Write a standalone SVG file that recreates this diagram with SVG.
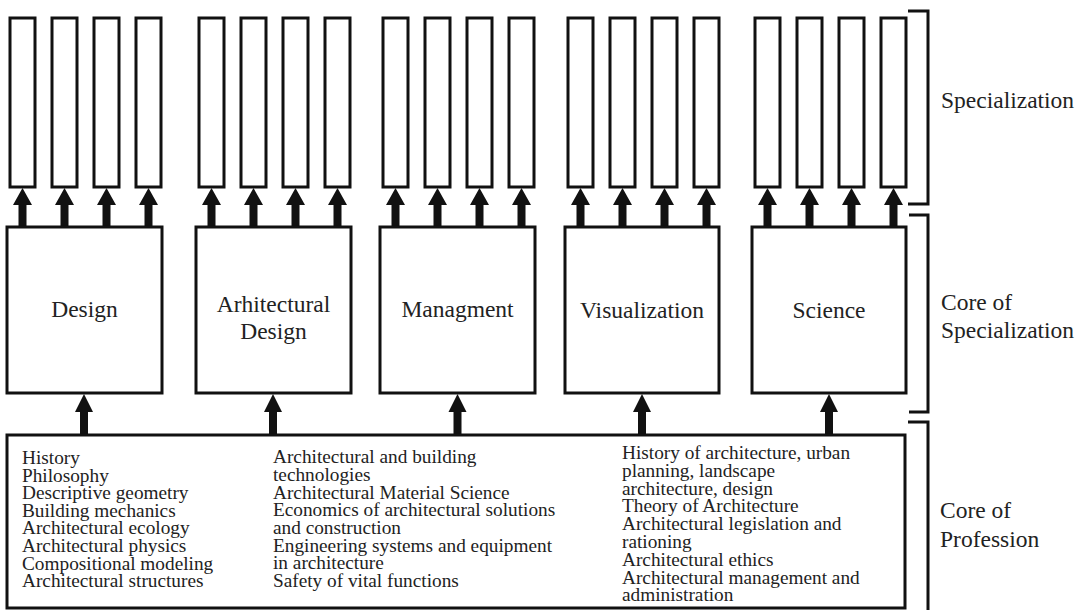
<svg xmlns="http://www.w3.org/2000/svg" xmlns:xlink="http://www.w3.org/1999/xlink" width="1080" height="610" viewBox="0 0 1080 610">
<style>
.box{fill:#fff;stroke:#111;stroke-width:3}
.bar{fill:#fff;stroke:#111;stroke-width:3}
.brk{fill:none;stroke:#111;stroke-width:3}
text{font-family:"Liberation Serif","Times New Roman",serif}
.lbl{font-size:23.5px;fill:#222;text-anchor:middle}
.side{font-size:23.5px;fill:#222}
.lst{font-size:19.3px;fill:#222}
.arr{fill:#111}
</style>
<defs>
<polygon id="sa" class="arr" points="0,0 9.5,17 4,17 4,40 -4,40 -4,17 -9.5,17"/>
<polygon id="ba" class="arr" points="0,0 9,18 4,18 4,42 -4,42 -4,18 -9,18"/>
</defs>
<rect width="1080" height="610" fill="#fff"/>

<g id="connectors">
<use xlink:href="#sa" x="22.5" y="188"/><use xlink:href="#sa" x="64.5" y="188"/><use xlink:href="#sa" x="106.5" y="188"/><use xlink:href="#sa" x="148.5" y="188"/>
<use xlink:href="#sa" x="211.5" y="188"/><use xlink:href="#sa" x="253.5" y="188"/><use xlink:href="#sa" x="295.5" y="188"/><use xlink:href="#sa" x="337.5" y="188"/>
<use xlink:href="#sa" x="395.5" y="188"/><use xlink:href="#sa" x="437.5" y="188"/><use xlink:href="#sa" x="479.5" y="188"/><use xlink:href="#sa" x="521.5" y="188"/>
<use xlink:href="#sa" x="580.5" y="188"/><use xlink:href="#sa" x="622.5" y="188"/><use xlink:href="#sa" x="664.5" y="188"/><use xlink:href="#sa" x="706.5" y="188"/>
<use xlink:href="#sa" x="767.5" y="188"/><use xlink:href="#sa" x="809.5" y="188"/><use xlink:href="#sa" x="851.5" y="188"/><use xlink:href="#sa" x="893.5" y="188"/>
<use xlink:href="#ba" x="84" y="394"/><use xlink:href="#ba" x="273" y="394"/><use xlink:href="#ba" x="457.5" y="394"/><use xlink:href="#ba" x="642" y="394"/><use xlink:href="#ba" x="829" y="394"/>
</g>

<g id="specializations">
<rect class="bar" x="10" y="18" width="25" height="169"/><rect class="bar" x="52" y="18" width="25" height="169"/><rect class="bar" x="94" y="18" width="25" height="169"/><rect class="bar" x="136" y="18" width="25" height="169"/>
<rect class="bar" x="199" y="18" width="25" height="169"/><rect class="bar" x="241" y="18" width="25" height="169"/><rect class="bar" x="283" y="18" width="25" height="169"/><rect class="bar" x="325" y="18" width="25" height="169"/>
<rect class="bar" x="383" y="18" width="25" height="169"/><rect class="bar" x="425" y="18" width="25" height="169"/><rect class="bar" x="467" y="18" width="25" height="169"/><rect class="bar" x="509" y="18" width="25" height="169"/>
<rect class="bar" x="568" y="18" width="25" height="169"/><rect class="bar" x="610" y="18" width="25" height="169"/><rect class="bar" x="652" y="18" width="25" height="169"/><rect class="bar" x="694" y="18" width="25" height="169"/>
<rect class="bar" x="755" y="18" width="25" height="169"/><rect class="bar" x="797" y="18" width="25" height="169"/><rect class="bar" x="839" y="18" width="25" height="169"/><rect class="bar" x="881" y="18" width="25" height="169"/>
</g>

<g id="design"><rect class="box" x="7" y="227" width="155" height="166"/><text class="lbl" x="84.5" y="317">Design</text></g>
<g id="arch-design"><rect class="box" x="196" y="227" width="155" height="166"/><text class="lbl" x="273.5" y="312">Arhitectural</text><text class="lbl" x="273.5" y="339">Design</text></g>
<g id="management"><rect class="box" x="380" y="227" width="155" height="166"/><text class="lbl" x="457.5" y="317">Managment</text></g>
<g id="visualization"><rect class="box" x="565" y="227" width="154" height="166"/><text class="lbl" x="642" y="318">Visualization</text></g>
<g id="science"><rect class="box" x="752" y="227" width="154" height="166"/><text class="lbl" x="829" y="318">Science</text></g>

<g id="core-profession">
<rect class="box" x="7" y="435" width="898" height="173"/>
<text class="lst" x="22">
<tspan x="22" y="464">History</tspan>
<tspan x="22" y="481.6">Philosophy</tspan>
<tspan x="22" y="499.2">Descriptive geometry</tspan>
<tspan x="22" y="516.8">Building mechanics</tspan>
<tspan x="22" y="534.4">Architectural ecology</tspan>
<tspan x="22" y="552">Architectural physics</tspan>
<tspan x="22" y="569.6">Compositional modeling</tspan>
<tspan x="22" y="587.2">Architectural structures</tspan>
</text>
<text class="lst" x="273">
<tspan x="273" y="463">Architectural and building</tspan>
<tspan x="273" y="480.8">technologies</tspan>
<tspan x="273" y="498.6">Architectural Material Science</tspan>
<tspan x="273" y="516.4">Economics of architectural solutions</tspan>
<tspan x="273" y="534.2">and construction</tspan>
<tspan x="273" y="552">Engineering systems and equipment</tspan>
<tspan x="273" y="569">in architecture</tspan>
<tspan x="273" y="587">Safety of vital functions</tspan>
</text>
<text class="lst" x="622">
<tspan x="622" y="459">History of architecture, urban</tspan>
<tspan x="622" y="476.8">planning, landscape</tspan>
<tspan x="622" y="494.6">architecture, design</tspan>
<tspan x="622" y="512.4">Theory of Architecture</tspan>
<tspan x="622" y="530.2">Architectural legislation and</tspan>
<tspan x="622" y="548">rationing</tspan>
<tspan x="622" y="565.8">Architectural ethics</tspan>
<tspan x="622" y="583.6">Architectural management and</tspan>
<tspan x="622" y="601.4">administration</tspan>
</text>
</g>

<g id="levels">
<path class="brk" d="M908,11 H928 V204 H908"/>
<path class="brk" d="M909,215 H928 V412 H909"/>
<path class="brk" d="M908,422 H928 V612"/>
<text class="side" x="941" y="108">Specialization</text>
<text class="side" x="941" y="310">Core of</text>
<text class="side" x="941" y="338">Specialization</text>
<text class="side" x="940" y="518">Core of</text>
<text class="side" x="940" y="547">Profession</text>
</g>
</svg>
